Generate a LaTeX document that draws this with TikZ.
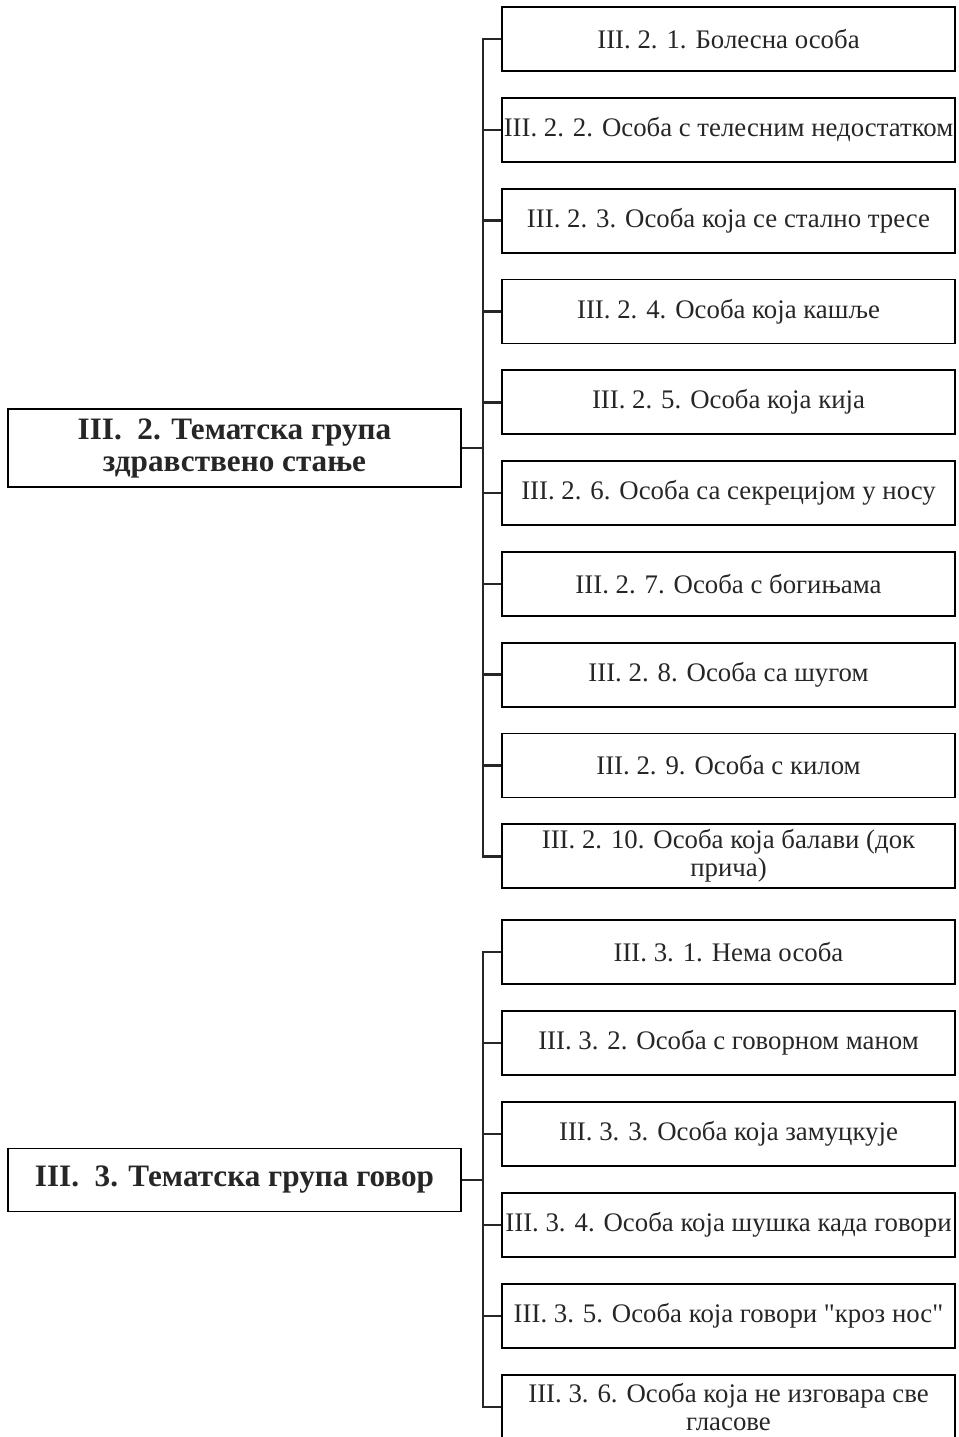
\documentclass[tikz,border=0pt]{standalone}
\usepackage{fontspec}
\setmainfont{Liberation Serif}[Ligatures=TeXOff]
\begin{document}
\begin{tikzpicture}[x=0.5pt,y=-0.5pt,
  leaf/.style={draw=black,line width=0.9pt,minimum width=226.5pt,minimum height=32pt,inner sep=0pt,align=center,font=\fontsize{13.4}{14}\selectfont,text=black!85},
  head/.style={draw=black,line width=0.9pt,minimum width=226.5pt,inner sep=0pt,align=center,font=\bfseries\fontsize{15.6}{16}\selectfont,text=black!85},
  link/.style={line width=1.3pt,black!85}]
\useasboundingbox (0,0) rectangle (959,1437);
\node[head,minimum height=39pt] (A) at (234.5,448) {III.\ \ 2. Тематска група\\здравствено стање};
\node[head,minimum height=31.5pt] (B) at (234.5,1180) {III.\ \ 3. Тематска група говор};
\node[leaf] (a1) at (728.5,39) {III. 2. 1. Болесна особа};
\node[leaf] (a2) at (728.5,129.8) {III. 2. 2. Особа с телесним недостатком};
\node[leaf] (a3) at (728.5,220.6) {III. 2. 3. Особа која се стално тресе};
\node[leaf] (a4) at (728.5,311.4) {III. 2. 4. Особа која кашље};
\node[leaf] (a5) at (728.5,402.2) {III. 2. 5. Особа која кија};
\node[leaf] (a6) at (728.5,493) {III. 2. 6. Особа са секрецијом у носу};
\node[leaf] (a7) at (728.5,583.8) {III. 2. 7. Особа с богињама};
\node[leaf] (a8) at (728.5,674.6) {III. 2. 8. Особа са шугом};
\node[leaf] (a9) at (728.5,765.4) {III. 2. 9. Особа с килом};
\node[leaf] (a10) at (728.5,856.2) {III. 2. 10. Особа која балави (док\\прича)};
\node[leaf] (b1) at (728.5,952) {III. 3. 1. Нема особа};
\node[leaf] (b2) at (728.5,1043) {III. 3. 2. Особа с говорном маном};
\node[leaf] (b3) at (728.5,1134) {III. 3. 3. Особа која замуцкује};
\node[leaf] (b4) at (728.5,1225) {III. 3. 4. Особа која шушка када говори};
\node[leaf] (b5) at (728.5,1316) {III. 3. 5. Особа која говори "кроз нос"};
\node[leaf] (b6) at (728.5,1407) {III. 3. 6. Особа која не изговара све\\гласове};
\foreach \n in {a1,a2,a3,a4,a5,a6,a7,a8,a9,a10}
  \draw[link] (A.east) -- ++(21,0) |- (\n.west);
\foreach \n in {b1,b2,b3,b4,b5,b6}
  \draw[link] (B.east) -- ++(21,0) |- (\n.west);
\end{tikzpicture}
\end{document}
